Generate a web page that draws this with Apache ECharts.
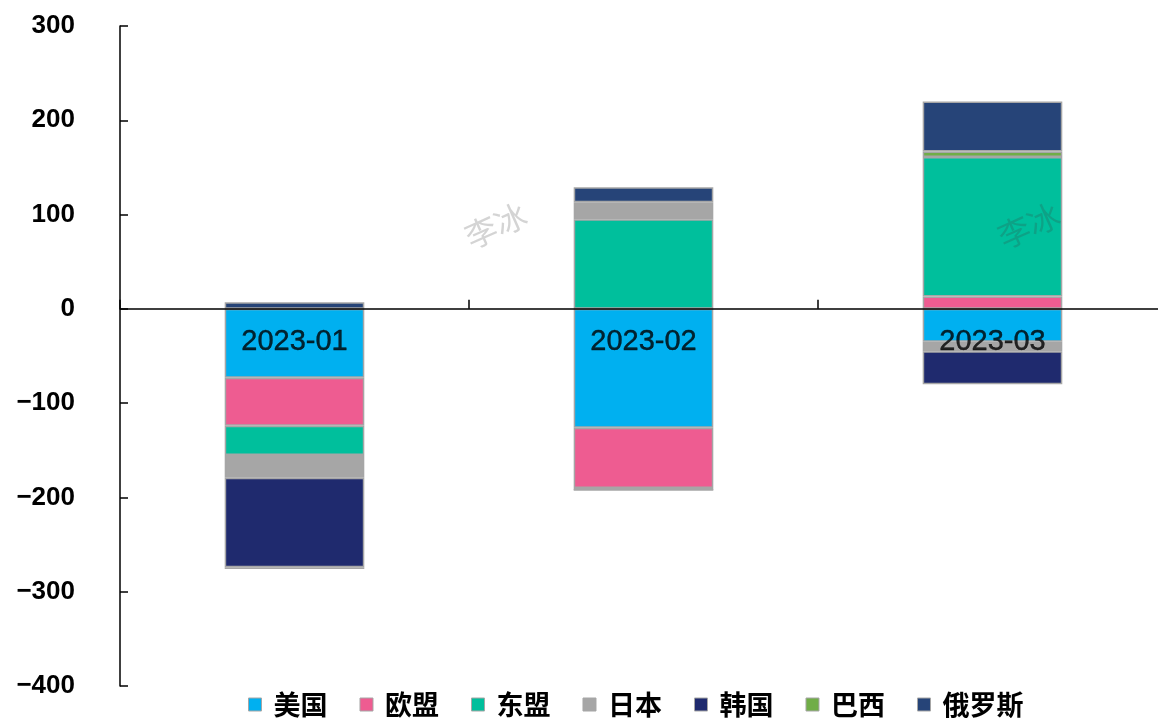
<!DOCTYPE html>
<html>
<head>
<meta charset="utf-8">
<script src="https://cdn.jsdelivr.net/npm/echarts@6/dist/echarts.min.js"></script>
<style>
html,body{margin:0;padding:0;background:#fff;}
#chart{width:1158px;height:718px;}
</style>
</head>
<body>
<div id="chart"></div>
<script>
// Monthly contributions by trading partner
const categories = ['2023-01', '2023-02', '2023-03'];
const seriesNames = ['美国', '欧盟', '东盟', '日本', '韩国', '巴西', '俄罗斯'];
const usa    = [-73, -126, -35];
const eu     = [-51, -64, 13];
const asean  = [-31, 95, 148];
const japan  = [-24, 18, -10];
const korea  = [-95, -2, -35];
const brazil = [-2, 0, 6];
const russia = [7, 16, 53];
const yTicks = [-400, -300, -200, -100, 0, 100, 200, 300];

const values = [usa, eu, asean, japan, korea, brazil, russia];
const colors = ['#00b0f0', '#ee5c91', '#00bf9c', '#a6a6a6', '#1f2a6e', '#70ad47', '#264478'];

const chart = echarts.init(document.getElementById('chart'));

const series = seriesNames.map((name, i) => ({
  name: name,
  type: 'bar',
  stack: 'total',
  barWidth: '40%',
  data: values[i],
  itemStyle: { color: colors[i], borderColor: '#a6a6a6', borderWidth: 1.5 },
  emphasis: { disabled: true }
}));

// Category names sit just under the zero line, on top of the bars
series.push({
  type: 'scatter',
  symbolSize: 0,
  z: 20,
  silent: true,
  data: categories.map(c => [c, 0]),
  label: {
    show: true,
    position: 'bottom',
    distance: 19,
    formatter: p => p.value[0],
    fontSize: 29,
    color: '#000',
    textBorderColor: '#000',
    textBorderWidth: 0.4,
    fontFamily: 'Liberation Sans, Arial, sans-serif'
  }
});

chart.setOption({
  animation: false,
  color: colors,
  grid: { left: 120, right: -9, top: 26, bottom: 32, containLabel: false, outerBoundsMode: 'none' },
  legend: {
    left: 243,
    bottom: -5,
    itemWidth: 13,
    itemHeight: 13,
    itemGap: 32,
    icon: 'rect',
    itemStyle: { borderColor: '#a6a6a6', borderWidth: 1 },
    textStyle: { fontSize: 27, color: '#000', fontFamily: 'Noto Sans CJK SC', fontWeight: 'bold', padding: [0, 0, 0, 7] },
    data: seriesNames
  },
  xAxis: {
    type: 'category',
    data: categories,
    z: 10,
    axisLine: { onZero: true, lineStyle: { color: '#000', width: 1.5 } },
    axisTick: { show: true, inside: true, length: 9, lineStyle: { color: '#000', width: 1.5 } },
    axisLabel: { show: false },
    splitLine: { show: false }
  },
  yAxis: {
    type: 'value',
    min: yTicks[0],
    max: yTicks[yTicks.length - 1],
    interval: 100,
    axisLine: { show: true, lineStyle: { color: '#000', width: 1.5 } },
    axisTick: { show: true, inside: true, length: 8, lineStyle: { color: '#000', width: 1.5 } },
    axisLabel: {
      margin: 45, fontSize: 26, fontWeight: 'bold', color: '#000',
      fontFamily: 'Liberation Sans, Arial, sans-serif',
      formatter: v => (v < 0 ? '\u2212' + Math.abs(v) : String(v))
    },
    splitLine: { show: false }
  },
  graphic: [
    { type: 'text', left: 460, top: 198, rotation: 0.42, z: 20,
      style: { text: '李冰', fontSize: 32, fill: 'rgba(160,160,160,0.45)', fontFamily: 'Noto Sans CJK SC' } },
    { type: 'text', left: 993, top: 198, rotation: 0.42, z: 20,
      style: { text: '李冰', fontSize: 32, fill: 'rgba(60,60,60,0.22)', fontFamily: 'Noto Sans CJK SC' } }
  ],
  series: series
});
</script>
</body>
</html>
